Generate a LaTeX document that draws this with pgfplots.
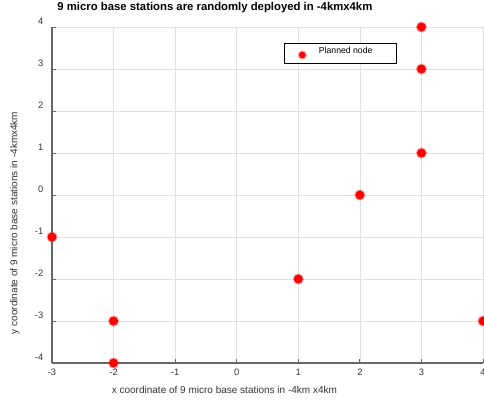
\documentclass[border=0pt]{standalone}
\usepackage{pgfplots}
\pgfplotsset{compat=1.18}
\usepackage{fontspec}
\setmainfont{Liberation Sans}
\begin{document}
\begin{tikzpicture}
\path[use as bounding box] (0,0) rectangle (363pt,299.25pt);
\begin{axis}[
 at={(39pt,27pt)}, anchor=south west,
 scale only axis, width=323.25pt, height=252pt,
 xmin=-3, xmax=4, ymin=-4, ymax=4,
 xtick={-3,-2,-1,0,1,2,3,4}, ytick={-4,-3,-2,-1,0,1,2,3,4},
 axis x line*=bottom, axis y line*=left,
 axis line style={draw=black!60, line width=0.9pt, -},
 tick style={black!60, line width=0.6pt},
 tick align=inside, major tick length=3pt,
 grid=major, grid style={black!12, line width=0.5pt},
 ticklabel style={font=\fontsize{7}{8}\selectfont, text=black!80},
 /pgf/number format/assume math mode=true,
 yticklabel style={yshift=4pt, xshift=-3pt},
 xticklabel style={yshift=-1pt},
 xlabel={x coordinate of 9 micro base stations in -4km x4km},
 xlabel style={font=\fontsize{7.5}{9}\selectfont, text=black!80, at={(axis description cs:0.40,-0.080)}, anchor=center},
 ylabel={y coordinate of 9 micro base stations in -4kmx4km},
 ylabel style={font=\fontsize{7.5}{9}\selectfont, text=black!80, at={(axis description cs:-0.0866,0.417)}, anchor=center},
 clip=false,
 legend style={at={(axis description cs:0.538,0.952)}, anchor=north west, draw=black, line width=0.6pt,
   font=\fontsize{6.5}{7}\selectfont, inner xsep=0pt, inner ysep=1pt},
 legend image code/.code={\path[draw=none] (0pt,0pt) -- (24pt,0pt); \fill[red!30] (13.5pt,-1pt) circle (3.2pt); \fill[red] (13.5pt,-1pt) circle (2.2pt);},
]
\addplot[only marks, mark=*, mark size=3.4pt, mark options={fill=red, draw=red, draw opacity=0.3, line width=1.6pt}]
 coordinates {(-3,-1) (-2,-3) (-2,-4) (1,-2) (2,0) (3,1) (3,3) (3,4) (4,-3)};
\addlegendentry{\makebox[56pt][l]{\raisebox{3pt}{Planned node}}}
\node[font=\bfseries\fontsize{8.5}{10}\selectfont, anchor=center] at (axis description cs:0.378,1.0565) {9 micro base stations are randomly deployed in -4kmx4km};
\end{axis}
\end{tikzpicture}
\end{document}
